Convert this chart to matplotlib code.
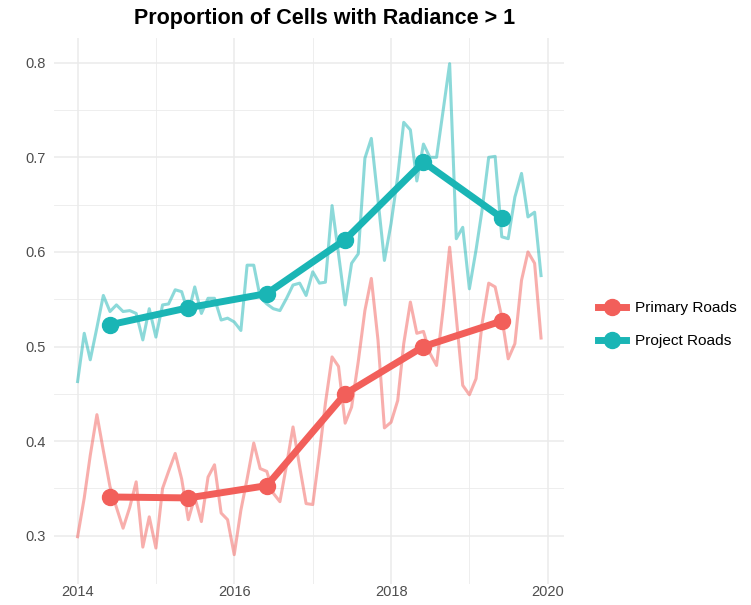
import numpy as np
import pandas as pd
import matplotlib
matplotlib.use("Agg")
import matplotlib.pyplot as plt
import matplotlib.dates as mdates

plt.rcParams['font.family'] = ['Liberation Sans', 'DejaVu Sans']

# ---- data ----
months = pd.date_range('2014-01-01', periods=72, freq='MS')
primary_monthly = [0.299, 0.340, 0.385, 0.428, 0.390, 0.352, 0.330, 0.308, 0.330, 0.357, 0.288, 0.320,
                   0.287, 0.350, 0.368, 0.387, 0.360, 0.317, 0.341, 0.315, 0.362, 0.375, 0.324, 0.317,
                   0.280, 0.327, 0.360, 0.398, 0.371, 0.368, 0.345, 0.336, 0.375, 0.415, 0.373, 0.334,
                   0.333, 0.387, 0.440, 0.489, 0.479, 0.419, 0.436, 0.484, 0.538, 0.572, 0.507, 0.414,
                   0.420, 0.443, 0.503, 0.547, 0.514, 0.516, 0.493, 0.480, 0.540, 0.605, 0.531, 0.459,
                   0.449, 0.466, 0.524, 0.567, 0.563, 0.531, 0.487, 0.503, 0.570, 0.600, 0.588, 0.509]
project_monthly = [0.463, 0.514, 0.486, 0.520, 0.554, 0.537, 0.544, 0.537, 0.538, 0.535, 0.507, 0.540,
                   0.510, 0.544, 0.545, 0.560, 0.558, 0.535, 0.563, 0.535, 0.551, 0.551, 0.528, 0.530,
                   0.526, 0.517, 0.586, 0.586, 0.552, 0.545, 0.540, 0.538, 0.551, 0.565, 0.567, 0.554,
                   0.579, 0.567, 0.568, 0.649, 0.598, 0.544, 0.588, 0.598, 0.699, 0.720, 0.655, 0.591,
                   0.630, 0.680, 0.737, 0.729, 0.675, 0.714, 0.700, 0.700, 0.750, 0.799, 0.614, 0.626,
                   0.561, 0.602, 0.644, 0.700, 0.701, 0.616, 0.614, 0.658, 0.683, 0.637, 0.642, 0.575]
years = pd.to_datetime(['2014-06-01', '2015-06-01', '2016-06-01', '2017-06-01', '2018-06-01', '2019-06-01'])
primary_annual = [0.341, 0.340, 0.353, 0.450, 0.500, 0.527]
project_annual = [0.523, 0.541, 0.556, 0.613, 0.695, 0.636]
series_names = ['Primary Roads', 'Project Roads']
colors = ['#F25F5A', '#1AB5B5']

fig = plt.figure(figsize=(7.51, 6.05), dpi=100)
ax = fig.add_axes([0.0719, 0.0347, 0.751 - 0.0719, 0.937 - 0.0347])

handles = []
for monthly, annual, name, c in [(primary_monthly, primary_annual, series_names[0], colors[0]),
                                 (project_monthly, project_annual, series_names[1], colors[1])]:
    ax.plot(months, monthly, color=c, alpha=0.5, lw=2.2, zorder=2)
    h, = ax.plot(years, annual, color=c, lw=5, marker='o', markersize=11.5, zorder=3, label=name)
    handles.append(h)

# axes limits
ax.set_xlim(pd.Timestamp('2013-09-13'), pd.Timestamp('2020-03-17'))
ax.set_ylim(0.249, 0.826)
ax.set_yticks([0.3, 0.4, 0.5, 0.6, 0.7, 0.8])
ax.set_yticks([0.35, 0.45, 0.55, 0.65, 0.75], minor=True)
ax.xaxis.set_major_locator(mdates.YearLocator(2))
ax.xaxis.set_minor_locator(mdates.YearLocator(1))
ax.xaxis.set_major_formatter(mdates.DateFormatter('%Y'))

ax.grid(which='major', color='#EBEBEB', lw=1.1)
ax.grid(which='minor', color='#EBEBEB', lw=0.6)
ax.set_axisbelow(True)
for s in ax.spines.values():
    s.set_visible(False)
ax.tick_params(which='both', length=0, labelsize=10.5, labelcolor='#4D4D4D')
ax.tick_params(axis='y', pad=6)
ax.tick_params(axis='x', pad=1)

ax.set_title('Proportion of Cells with Radiance > 1', fontsize=15.5, fontweight='bold', pad=10, x=0.531)

leg = ax.legend(handles=handles, loc='center left', bbox_to_anchor=(1.04, 0.475), frameon=False,
                fontsize=11.1, handlelength=1.8, labelspacing=1.2, handletextpad=0.6)

fig.savefig('out.png', dpi=100)
